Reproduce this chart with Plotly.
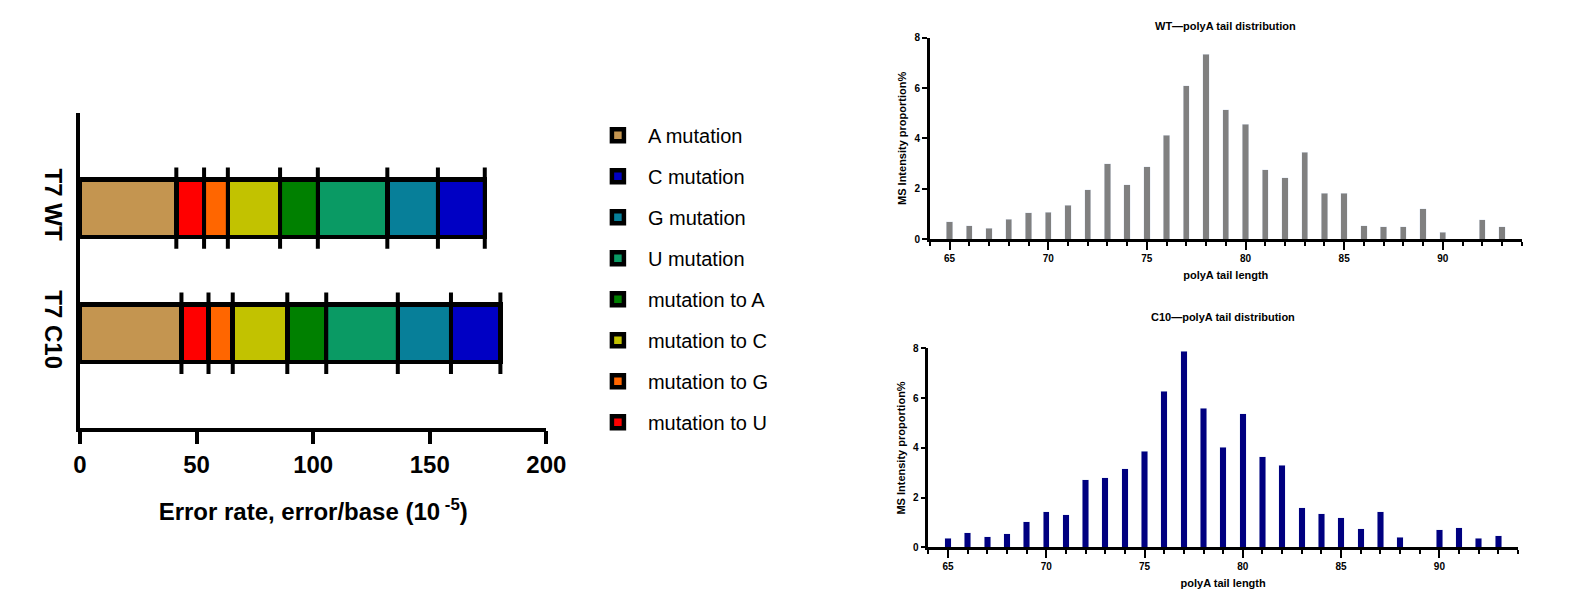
import plotly.graph_objects as go

# ---------------- Left chart: stacked error-rate bars ----------------
groups = ["T7 WT", "T7 C10"]
stack_names = ["A mutation", "mutation to U", "mutation to G", "mutation to C",
               "mutation to A", "U mutation", "G mutation", "C mutation"]
wt_err = [41.3, 11.9, 10.2, 22.4, 16.2, 29.8, 21.7, 20.1]
c10_err = [43.5, 11.6, 10.4, 23.4, 16.7, 30.7, 22.8, 21.2]
legend_order = ["A mutation", "C mutation", "G mutation", "U mutation",
                "mutation to A", "mutation to C", "mutation to G", "mutation to U"]
err_ticks = [0, 50, 100, 150, 200]

# ---------------- Right charts: polyA tail distribution ----------------
tail_len = list(range(65, 94))
wt_pct = [0.68, 0.53, 0.42, 0.79, 1.04, 1.07, 1.35, 1.95, 2.99, 2.16,
          2.87, 4.12, 6.08, 7.35, 5.13, 4.57, 2.75, 2.44, 3.44, 1.81,
          1.82, 0.53, 0.49, 0.48, 1.20, 0.26, 0.0, 0.77, 0.48]
c10_pct = [0.37, 0.59, 0.43, 0.56, 1.04, 1.43, 1.31, 2.73, 2.81, 3.16,
           3.87, 6.28, 7.89, 5.59, 4.03, 5.37, 3.64, 3.31, 1.59, 1.35,
           1.19, 0.76, 1.43, 0.41, 0.0, 0.72, 0.80, 0.37, 0.48]

colors = {
    "A mutation": "#C49550",
    "mutation to U": "#FF0000",
    "mutation to G": "#FF6600",
    "mutation to C": "#C2C200",
    "mutation to A": "#008000",
    "U mutation": "#0A9A64",
    "G mutation": "#077F99",
    "C mutation": "#0000C4",
}

FONT = "Arial, Liberation Sans, sans-serif"
W, H = 1581, 611


def px_x(p):
    return p / W


def px_y(p):
    return 1 - p / H


fig = go.Figure()

bar_w = 0.462
for i, name in enumerate(stack_names):
    fig.add_trace(go.Bar(
        x=[wt_err[i], c10_err[i]], y=[0, 1], orientation="h",
        width=bar_w, name=name, legendgroup=name,
        legendrank=legend_order.index(name) + 1,
        marker=dict(color=colors[name], line=dict(color="black", width=4.5)),
        xaxis="x", yaxis="y",
    ))

# divider ticks that extend above/below each segment boundary
ext_x, ext_y = [], []
ext = 0.325
for gi, vals in enumerate([wt_err, c10_err]):
    cum = 0.0
    for v in vals:
        cum += v
        ext_x += [cum, cum, None]
        ext_y += [gi - ext, gi + ext, None]
fig.add_trace(go.Scatter(x=ext_x, y=ext_y, mode="lines",
                         line=dict(color="black", width=4),
                         showlegend=False, hoverinfo="skip",
                         xaxis="x", yaxis="y"))

fig.add_trace(go.Bar(x=tail_len, y=wt_pct, width=0.32,
                     marker=dict(color="#808080"), showlegend=False,
                     xaxis="x2", yaxis="y2"))
fig.add_trace(go.Bar(x=tail_len, y=c10_pct, width=0.33,
                     marker=dict(color="#000080"), showlegend=False,
                     xaxis="x3", yaxis="y3"))

bold = dict(family=FONT, color="black", weight="bold")

left_x_dom = [px_x(74.3), px_x(548.7)]
left_y_dom = [px_y(430), px_y(109)]
top_x_dom = [px_x(938.9), px_x(1541)]
top_y_dom = [px_y(237.7), px_y(32.3)]
bot_x_dom = [px_x(937.3), px_x(1537.3)]
bot_y_dom = [px_y(552.3), px_y(349.3)]


def small_x(dom, anchor):
    return dict(domain=dom, anchor=anchor, range=[64, 94], tick0=65, dtick=5,
                ticks="outside", ticklen=8, tickwidth=2, tickcolor="black",
                showline=True, linewidth=2.5, linecolor="black",
                showgrid=False, zeroline=False,
                minor=dict(dtick=1, tick0=64, ticks="outside", ticklen=4,
                           tickwidth=2, tickcolor="black", showgrid=False),
                tickfont=dict(size=10, **bold),
                title=dict(text="polyA tail length", font=dict(size=11, **bold),
                           standoff=9))


def small_y(dom, anchor):
    return dict(domain=dom, anchor=anchor, range=[0, 8], dtick=2,
                ticks="outside", ticklen=5, tickwidth=2, tickcolor="black",
                showline=True, linewidth=2.5, linecolor="black",
                showgrid=False, zeroline=False,
                tickfont=dict(size=10, **bold),
                title=dict(text="MS Intensity proportion%",
                           font=dict(size=11, **bold), standoff=6))


fig.update_layout(
    width=W, height=H,
    margin=dict(l=0, r=0, t=0, b=0),
    paper_bgcolor="white", plot_bgcolor="white",
    barmode="stack",
    font=dict(family=FONT, color="black"),
    showlegend=True,
    legend=dict(x=px_x(591), y=px_y(112), xanchor="left", yanchor="top",
                font=dict(family=FONT, size=20, color="black"),
                itemwidth=50, tracegroupgap=12, bgcolor="rgba(0,0,0,0)",
                traceorder="grouped"),
    xaxis=dict(domain=left_x_dom, anchor="y", range=[0, 200],
               tickvals=err_ticks, ticks="outside", ticklen=13, tickwidth=3.5,
               tickcolor="black", showline=True, linewidth=3.5,
               linecolor="black", showgrid=False, zeroline=False,
               tickfont=dict(size=24, **bold),
               title=dict(text="Error rate, error/base (10<sup> -5</sup>)",
                          font=dict(size=24, **bold), standoff=27)),
    yaxis=dict(domain=left_y_dom, anchor="x", range=[1.754, -0.762],
               tickvals=[0, 1], ticktext=groups, tickangle=90, ticks="",
               showline=True, linewidth=3.5, linecolor="black",
               showgrid=False, zeroline=False, ticklabelstandoff=2,
               tickfont=dict(size=24, **bold)),
    xaxis2=small_x(top_x_dom, "y2"),
    yaxis2=small_y(top_y_dom, "x2"),
    xaxis3=small_x(bot_x_dom, "y3"),
    yaxis3=small_y(bot_y_dom, "x3"),
    annotations=[
        dict(text="WT\u2014polyA tail distribution", xref="paper", yref="paper",
             x=(top_x_dom[0] + top_x_dom[1]) / 2, y=px_y(20), xanchor="center",
             yanchor="middle", showarrow=False, font=dict(size=11, **bold)),
        dict(text="C10\u2014polyA tail distribution", xref="paper", yref="paper",
             x=(bot_x_dom[0] + bot_x_dom[1]) / 2, y=px_y(317.3), xanchor="center",
             yanchor="middle", showarrow=False, font=dict(size=11, **bold)),
    ],
)

fig.write_html("out.html", config={"displayModeBar": False},
               post_script="document.body.style.margin='0';")
